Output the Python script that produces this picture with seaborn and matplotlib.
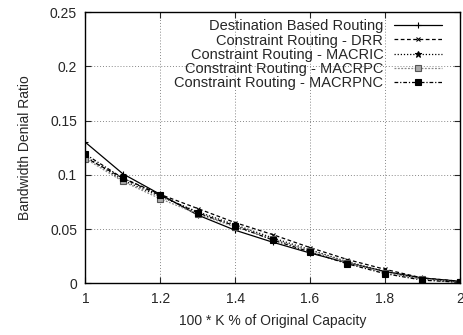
import pandas as pd
import seaborn as sns
import matplotlib.pyplot as plt

capacity = [1.0, 1.1, 1.2, 1.3, 1.4, 1.5, 1.6, 1.7, 1.8, 1.9, 2.0]
dest_based = [0.130, 0.101, 0.082, 0.063, 0.049, 0.038, 0.028, 0.019, 0.011, 0.005, 0.002]
drr = [0.116, 0.097, 0.082, 0.069, 0.056, 0.045, 0.033, 0.022, 0.013, 0.005, 0.002]
macric = [0.117, 0.095, 0.080, 0.066, 0.054, 0.042, 0.031, 0.020, 0.011, 0.004, 0.001]
macrpc = [0.115, 0.094, 0.078, 0.064, 0.052, 0.041, 0.030, 0.019, 0.010, 0.004, 0.001]
macrpnc = [0.119, 0.097, 0.081, 0.065, 0.053, 0.040, 0.029, 0.018, 0.009, 0.003, 0.001]

series = {
    'Destination Based Routing': dest_based,
    'Constraint Routing - DRR': drr,
    'Constraint Routing - MACRIC': macric,
    'Constraint Routing - MACRPC': macrpc,
    'Constraint Routing - MACRPNC': macrpnc,
}

# estilo de cada curva (parecido com gnuplot)
styles = [
    dict(linestyle='-', marker='+', markersize=5, color='black', markeredgecolor='black'),
    dict(linestyle=(0, (3, 2)), marker='x', markersize=3.5, color='black',
         markeredgecolor='black'),
    dict(linestyle=(0, (1, 1.5)), marker='*', markersize=4.5, color='black',
         markeredgecolor='black'),
    dict(linestyle=(0, (1.5, 1.2)), marker='s', markersize=4, color='#888888',
         markerfacecolor='#aaaaaa', markeredgecolor='#555555'),
    dict(linestyle=(0, (3, 1.5, 1, 1.5)), marker='s', markersize=4, color='black',
         markeredgecolor='black'),
]

sns.set_style('ticks')
plt.rcParams['font.family'] = ['Liberation Sans', 'DejaVu Sans']
fs = 10

fig = plt.figure(figsize=(4.64, 3.35), dpi=100)
ax = fig.add_axes([0.184, 0.154, 0.807, 0.810])

for (nome, valores), st in zip(series.items(), styles):
    df = pd.DataFrame({'x': capacity, 'y': valores})
    sns.lineplot(data=df, x='x', y='y', ax=ax, label=nome, linewidth=0.9,
                 markeredgewidth=0.8, **st)

ax.set_xlim(1, 2)
ax.set_ylim(0, 0.25)
ax.set_xticks([1, 1.2, 1.4, 1.6, 1.8, 2])
ax.set_xticklabels(['1', '1.2', '1.4', '1.6', '1.8', '2'])
ax.set_yticks([0, 0.05, 0.1, 0.15, 0.2, 0.25])
ax.set_yticklabels(['0', '0.05', '0.1', '0.15', '0.2', '0.25'])
ax.grid(True, color='#888888', linestyle=(0, (1, 2)), linewidth=0.7)
ax.tick_params(direction='in', top=True, right=True, labelsize=fs, length=4,
               width=0.8, pad=6)
for sp in ax.spines.values():
    sp.set_linewidth(1.0)
    sp.set_color('black')
ax.set_xlabel('100 * K % of Original Capacity', fontsize=fs, labelpad=6)
ax.set_ylabel('Bandwidth Denial Ratio', fontsize=fs, labelpad=13)

ax.legend(loc='upper right', bbox_to_anchor=(0.967, 0.995), frameon=False,
          markerfirst=False, fontsize=10.5, handlelength=3.3, labelspacing=0.02,
          borderaxespad=0, borderpad=0.4, handletextpad=0.7)

plt.savefig('out.png', dpi=100)
